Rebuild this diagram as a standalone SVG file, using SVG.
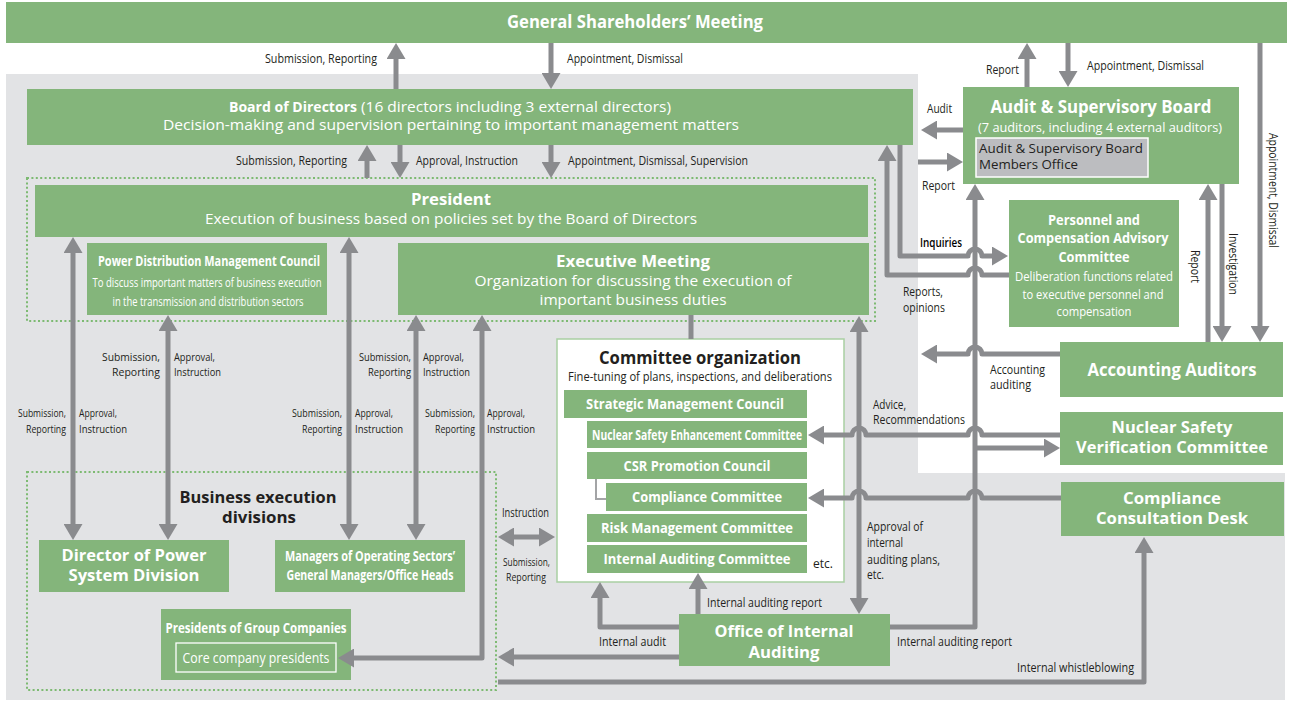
<svg xmlns="http://www.w3.org/2000/svg" width="1289" height="703" viewBox="0 0 1289 703">
  <defs>
    <marker id="ah" viewBox="0 0 16 19" refX="8" refY="9.5" markerWidth="16" markerHeight="19" markerUnits="userSpaceOnUse" orient="auto-start-reverse">
      <path d="M0,0 L16,9.5 L0,19 z" fill="#8a8b8e"/>
    </marker>
  </defs>
  <style>
    .box{fill:#84b57b}
    .frame{fill:none;stroke:#7dba72;stroke-width:2;stroke-dasharray:2 2.4}
    .c{fill:none;stroke:#8a8b8e;stroke-width:5;stroke-linejoin:round}
    .a{marker-end:url(#ah)}
    .d{marker-start:url(#ah);marker-end:url(#ah)}
    text{font-family:"Open Sans","Liberation Sans",sans-serif}
    .l{font-size:12px;fill:#231f20}
    .s{font-size:11.5px}
    .w{fill:#fff}
    .b{font-weight:700}
    .m{text-anchor:middle}
    .e{text-anchor:end}
  </style>

  <!-- background panels -->
  <rect width="1289" height="703" fill="#fff"/>
  <path d="M6,74 H918 V473 H1285 V700 H6 Z" fill="#e2e3e5"/>

  <!-- dotted group frames -->
  <rect class="frame" x="27" y="178" width="848" height="143"/>
  <rect class="frame" x="27" y="472" width="469" height="218"/>

  <!-- nodes -->
  <g id="gsm">
    <rect class="box" x="6" y="2" width="1281" height="41"/>
    <text class="w b m" x="635" y="28" font-size="17" textLength="256" lengthAdjust="spacingAndGlyphs">General Shareholders’ Meeting</text>
  </g>

  <g id="board">
    <rect class="box" x="27" y="89" width="886" height="56"/>
    <text class="w b" x="229" y="112" font-size="14.5" textLength="128" lengthAdjust="spacingAndGlyphs">Board of Directors</text>
    <text class="w" x="361" y="112" font-size="14.5" textLength="310" lengthAdjust="spacingAndGlyphs">(16 directors including 3 external directors)</text>
    <text class="w m" x="451" y="130" font-size="14.5" textLength="576" lengthAdjust="spacingAndGlyphs">Decision-making and supervision pertaining to important management matters</text>
  </g>

  <g id="president">
    <rect class="box" x="35" y="185" width="833" height="52"/>
    <text class="w b m" x="451" y="205" font-size="16" textLength="80" lengthAdjust="spacingAndGlyphs">President</text>
    <text class="w m" x="451" y="224" font-size="14.5" textLength="492" lengthAdjust="spacingAndGlyphs">Execution of business based on policies set by the Board of Directors</text>
  </g>

  <g id="pdmc">
    <rect class="box" x="87" y="243" width="240" height="72"/>
    <text class="w b m" x="209" y="266" font-size="13.5" textLength="222" lengthAdjust="spacingAndGlyphs">Power Distribution Management Council</text>
    <text class="w m" x="207" y="287" font-size="12.5" textLength="229" lengthAdjust="spacingAndGlyphs">To discuss important matters of business execution</text>
    <text class="w m" x="208" y="306" font-size="12.5" textLength="191" lengthAdjust="spacingAndGlyphs">in the transmission and distribution sectors</text>
  </g>

  <g id="executive-meeting">
    <rect class="box" x="398" y="243" width="471" height="72"/>
    <text class="w b m" x="633" y="267" font-size="16" textLength="154" lengthAdjust="spacingAndGlyphs">Executive Meeting</text>
    <text class="w m" x="633" y="286" font-size="14.5" textLength="317" lengthAdjust="spacingAndGlyphs">Organization for discussing the execution of</text>
    <text class="w m" x="633" y="305" font-size="14.5" textLength="187" lengthAdjust="spacingAndGlyphs">important business duties</text>
  </g>

  <g id="audit-board">
    <rect class="box" x="963" y="87" width="276" height="97"/>
    <text class="w b m" x="1101" y="113" font-size="17" textLength="221" lengthAdjust="spacingAndGlyphs">Audit &amp; Supervisory Board</text>
    <text class="w m" x="1100" y="132" font-size="13.5" textLength="244" lengthAdjust="spacingAndGlyphs">(7 auditors, including 4 external auditors)</text>
    <rect x="976" y="138" width="172" height="39" fill="#bcbdc0" stroke="#fff" stroke-width="1.5"/>
    <text x="979" y="153" font-size="13.5" fill="#231f20" textLength="164" lengthAdjust="spacingAndGlyphs">Audit &amp; Supervisory Board</text>
    <text x="979" y="169" font-size="13.5" fill="#231f20" textLength="99" lengthAdjust="spacingAndGlyphs">Members Office</text>
  </g>

  <g id="pcac">
    <rect class="box" x="1009" y="200" width="170" height="127"/>
    <text class="w b m" x="1094" y="225" font-size="14" textLength="92" lengthAdjust="spacingAndGlyphs">Personnel and</text>
    <text class="w b m" x="1093" y="243" font-size="14" textLength="151" lengthAdjust="spacingAndGlyphs">Compensation Advisory</text>
    <text class="w b m" x="1094" y="262" font-size="14" textLength="71" lengthAdjust="spacingAndGlyphs">Committee</text>
    <text class="w m" x="1094" y="281" font-size="13" textLength="158" lengthAdjust="spacingAndGlyphs">Deliberation functions related</text>
    <text class="w m" x="1093" y="299" font-size="13" textLength="141" lengthAdjust="spacingAndGlyphs">to executive personnel and</text>
    <text class="w m" x="1094" y="316" font-size="13" textLength="75" lengthAdjust="spacingAndGlyphs">compensation</text>
  </g>

  <g id="accounting-auditors">
    <rect class="box" x="1060" y="342" width="223" height="55"/>
    <text class="w b m" x="1172" y="376" font-size="17" textLength="169" lengthAdjust="spacingAndGlyphs">Accounting Auditors</text>
  </g>

  <g id="nuclear-verification">
    <rect class="box" x="1060" y="412" width="223" height="53"/>
    <text class="w b m" x="1172" y="433" font-size="15.5" textLength="121" lengthAdjust="spacingAndGlyphs">Nuclear Safety</text>
    <text class="w b m" x="1172" y="453" font-size="15.5" textLength="192" lengthAdjust="spacingAndGlyphs">Verification Committee</text>
  </g>

  <g id="consultation-desk">
    <rect class="box" x="1061" y="482" width="223" height="54"/>
    <text class="w b m" x="1172" y="504" font-size="16" textLength="98" lengthAdjust="spacingAndGlyphs">Compliance</text>
    <text class="w b m" x="1172" y="524" font-size="16" textLength="152" lengthAdjust="spacingAndGlyphs">Consultation Desk</text>
  </g>

  <g id="committee-organization">
    <rect x="557" y="339" width="287" height="243" fill="#fff" stroke="#a9cfa2" stroke-width="1.5"/>
    <text class="b m" x="700" y="364" font-size="17" fill="#231f20" textLength="202" lengthAdjust="spacingAndGlyphs">Committee organization</text>
    <text class="m" x="700" y="381" font-size="12.5" fill="#231f20" textLength="264" lengthAdjust="spacingAndGlyphs">Fine-tuning of plans, inspections, and deliberations</text>
    <text x="813" y="568" font-size="13" fill="#231f20" textLength="20" lengthAdjust="spacingAndGlyphs">etc.</text>
  </g>
  <g id="strategic-council">
    <rect class="box" x="564" y="390" width="243" height="28"/>
    <text class="w b m" x="685" y="409" font-size="14" textLength="198" lengthAdjust="spacingAndGlyphs">Strategic Management Council</text>
  </g>
  <g id="nuclear-enhancement">
    <rect class="box" x="587" y="421" width="220" height="27"/>
    <text class="w b m" x="697" y="440" font-size="14" textLength="210" lengthAdjust="spacingAndGlyphs">Nuclear Safety Enhancement Committee</text>
  </g>
  <g id="csr-council">
    <rect class="box" x="587" y="452" width="220" height="27"/>
    <text class="w b m" x="697" y="471" font-size="14" textLength="147" lengthAdjust="spacingAndGlyphs">CSR Promotion Council</text>
  </g>
  <g id="compliance-committee">
    <rect class="box" x="606" y="483" width="201" height="28"/>
    <text class="w b m" x="707" y="502" font-size="14" textLength="150" lengthAdjust="spacingAndGlyphs">Compliance Committee</text>
  </g>
  <g id="risk-committee">
    <rect class="box" x="587" y="514" width="220" height="28"/>
    <text class="w b m" x="697" y="533" font-size="14" textLength="192" lengthAdjust="spacingAndGlyphs">Risk Management Committee</text>
  </g>
  <g id="auditing-committee">
    <rect class="box" x="587" y="545" width="220" height="28"/>
    <text class="w b m" x="697" y="564" font-size="14" textLength="187" lengthAdjust="spacingAndGlyphs">Internal Auditing Committee</text>
  </g>

  <g id="internal-auditing-office">
    <rect class="box" x="679" y="614" width="211" height="52"/>
    <text class="w b m" x="784" y="637" font-size="16" textLength="139" lengthAdjust="spacingAndGlyphs">Office of Internal</text>
    <text class="w b m" x="784" y="658" font-size="16" textLength="71" lengthAdjust="spacingAndGlyphs">Auditing</text>
  </g>

  <g id="business-divisions">
    <text class="b m" x="258" y="503" font-size="16" fill="#231f20" textLength="157" lengthAdjust="spacingAndGlyphs">Business execution</text>
    <text class="b m" x="259" y="523" font-size="16" fill="#231f20" textLength="74" lengthAdjust="spacingAndGlyphs">divisions</text>
  </g>

  <g id="power-system-director">
    <rect class="box" x="39" y="540" width="190" height="52"/>
    <text class="w b m" x="134" y="561" font-size="16" textLength="145" lengthAdjust="spacingAndGlyphs">Director of Power</text>
    <text class="w b m" x="134" y="581" font-size="16" textLength="131" lengthAdjust="spacingAndGlyphs">System Division</text>
  </g>

  <g id="sector-managers">
    <rect class="box" x="275" y="540" width="190" height="52"/>
    <text class="w b m" x="370" y="561" font-size="14" textLength="170" lengthAdjust="spacingAndGlyphs">Managers of Operating Sectors’</text>
    <text class="w b m" x="370" y="580" font-size="14" textLength="167" lengthAdjust="spacingAndGlyphs">General Managers/Office Heads</text>
  </g>

  <g id="group-presidents">
    <rect class="box" x="161" y="609" width="190" height="71"/>
    <text class="w b m" x="256" y="633" font-size="14" textLength="181" lengthAdjust="spacingAndGlyphs">Presidents of Group Companies</text>
    <rect x="176" y="643" width="160" height="29" fill="none" stroke="#fff" stroke-width="1.3"/>
    <text class="w m" x="256" y="663" font-size="14" textLength="147" lengthAdjust="spacingAndGlyphs">Core company presidents</text>
  </g>

  <!-- connectors -->
  <g id="connectors">
    <path class="c a" d="M396,89 V51"/>
    <path class="c a" d="M551,43 V81"/>
    <path class="c a" d="M367,178 V153"/>
    <path class="c a" d="M400,145 V170"/>
    <path class="c a" d="M551,145 V170"/>
    <path class="c d" d="M73,245 V532"/>
    <path class="c d" d="M168,323 V532"/>
    <path class="c d" d="M349,245 V532"/>
    <path class="c d" d="M416,323 V532"/>
    <path class="c d" d="M482,323 V658 H346"/>
    <path class="c" d="M691,315 V339"/>
    <path class="c d" d="M506,537 H547"/>
    <path class="c d" d="M859,324 V606"/>
    <path class="c a" d="M679,657 H506"/>
    <path class="c a" d="M679,627 H600 V590"/>
    <path class="c a" d="M698,614 V581"/>
    <path class="c a" d="M890,627 H975 V192"/>
    <path class="c a" d="M498,682 H1144 V545"/>
    <path class="c a" d="M963,130 H929"/>
    <path class="c a" d="M918,162 H955"/>
    <path class="c a" d="M1027,87 V51"/>
    <path class="c a" d="M1068,43 V79"/>
    <path class="c a" d="M1260,43 V334"/>
    <path class="c a" d="M1222,184 V334"/>
    <path class="c a" d="M1208,342 V192"/>
    <path class="c a" d="M900,145 V256 H968 A7,7 0 0 1 982,256 H1000"/>
    <path class="c a" d="M1009,275 H982 A7,7 0 0 0 968,275 H887 V153"/>
    <path class="c a" d="M1060,354 H982 A7,7 0 0 0 968,354 H929"/>
    <path class="c a" d="M1060,435 H982 A7,7 0 0 0 968,435 H866 A7,7 0 0 0 852,435 H816"/>
    <path class="c a" d="M975,448 H1052"/>
    <path class="c a" d="M1061,498 H982 A7,7 0 0 0 968,498 H866 A7,7 0 0 0 852,498 H816"/>
    <path d="M596,479 V499 H606" fill="none" stroke="#a3a4a6" stroke-width="2"/>
  </g>

  <!-- connector labels -->
  <g id="labels" class="l">
    <text x="265" y="63" textLength="112" lengthAdjust="spacingAndGlyphs">Submission, Reporting</text>
    <text x="567" y="63" textLength="116" lengthAdjust="spacingAndGlyphs">Appointment, Dismissal</text>
    <text x="236" y="165" textLength="111" lengthAdjust="spacingAndGlyphs">Submission, Reporting</text>
    <text x="416" y="165" textLength="102" lengthAdjust="spacingAndGlyphs">Approval, Instruction</text>
    <text x="568" y="165" textLength="180" lengthAdjust="spacingAndGlyphs">Appointment, Dismissal, Supervision</text>
    <text x="986" y="74" textLength="33" lengthAdjust="spacingAndGlyphs">Report</text>
    <text x="1087" y="70" textLength="117" lengthAdjust="spacingAndGlyphs">Appointment, Dismissal</text>
    <text x="927" y="113" textLength="25" lengthAdjust="spacingAndGlyphs">Audit</text>
    <text x="922" y="190" textLength="33" lengthAdjust="spacingAndGlyphs">Report</text>
    <text x="920" y="247" textLength="42" lengthAdjust="spacingAndGlyphs" font-weight="600" fill="#000">Inquiries</text>
    <text x="903" y="296" textLength="40" lengthAdjust="spacingAndGlyphs">Reports,</text>
    <text x="903" y="312" textLength="42" lengthAdjust="spacingAndGlyphs">opinions</text>
    <text x="990" y="374" textLength="55" lengthAdjust="spacingAndGlyphs">Accounting</text>
    <text x="990" y="389" textLength="41" lengthAdjust="spacingAndGlyphs">auditing</text>
    <text x="873" y="409" textLength="33" lengthAdjust="spacingAndGlyphs">Advice,</text>
    <text x="873" y="424" textLength="92" lengthAdjust="spacingAndGlyphs">Recommendations</text>
    <text x="867" y="531" textLength="56" lengthAdjust="spacingAndGlyphs">Approval of</text>
    <text x="867" y="547" textLength="36" lengthAdjust="spacingAndGlyphs">internal</text>
    <text x="867" y="564" textLength="73" lengthAdjust="spacingAndGlyphs">auditing plans,</text>
    <text x="867" y="579" textLength="17" lengthAdjust="spacingAndGlyphs">etc.</text>
    <text x="707" y="607" textLength="115" lengthAdjust="spacingAndGlyphs">Internal auditing report</text>
    <text x="599" y="646" textLength="67" lengthAdjust="spacingAndGlyphs">Internal audit</text>
    <text x="897" y="646" textLength="115" lengthAdjust="spacingAndGlyphs">Internal auditing report</text>
    <text x="1017" y="672" textLength="117" lengthAdjust="spacingAndGlyphs">Internal whistleblowing</text>
    <text x="502" y="517" textLength="47" lengthAdjust="spacingAndGlyphs">Instruction</text>
    <text class="s" x="503" y="566" textLength="47" lengthAdjust="spacingAndGlyphs">Submission,</text>
    <text class="s" x="506" y="581" textLength="40" lengthAdjust="spacingAndGlyphs">Reporting</text>

    <text class="e s" x="160" y="361" textLength="58" lengthAdjust="spacingAndGlyphs">Submission,</text>
    <text class="e s" x="160" y="376" textLength="48" lengthAdjust="spacingAndGlyphs">Reporting</text>
    <text class="s" x="174" y="361" textLength="41" lengthAdjust="spacingAndGlyphs">Approval,</text>
    <text class="s" x="174" y="376" textLength="47" lengthAdjust="spacingAndGlyphs">Instruction</text>
    <text class="e s" x="411" y="361" textLength="52" lengthAdjust="spacingAndGlyphs">Submission,</text>
    <text class="e s" x="411" y="376" textLength="43" lengthAdjust="spacingAndGlyphs">Reporting</text>
    <text class="s" x="423" y="361" textLength="41" lengthAdjust="spacingAndGlyphs">Approval,</text>
    <text class="s" x="423" y="376" textLength="47" lengthAdjust="spacingAndGlyphs">Instruction</text>

    <text class="e s" x="66" y="417" textLength="48" lengthAdjust="spacingAndGlyphs">Submission,</text>
    <text class="e s" x="66" y="433" textLength="40" lengthAdjust="spacingAndGlyphs">Reporting</text>
    <text class="s" x="79" y="417" textLength="38" lengthAdjust="spacingAndGlyphs">Approval,</text>
    <text class="s" x="79" y="433" textLength="48" lengthAdjust="spacingAndGlyphs">Instruction</text>
    <text class="e s" x="342" y="417" textLength="50" lengthAdjust="spacingAndGlyphs">Submission,</text>
    <text class="e s" x="342" y="433" textLength="40" lengthAdjust="spacingAndGlyphs">Reporting</text>
    <text class="s" x="355" y="417" textLength="38" lengthAdjust="spacingAndGlyphs">Approval,</text>
    <text class="s" x="355" y="433" textLength="48" lengthAdjust="spacingAndGlyphs">Instruction</text>
    <text class="e s" x="475" y="417" textLength="50" lengthAdjust="spacingAndGlyphs">Submission,</text>
    <text class="e s" x="475" y="433" textLength="40" lengthAdjust="spacingAndGlyphs">Reporting</text>
    <text class="s" x="487" y="417" textLength="38" lengthAdjust="spacingAndGlyphs">Approval,</text>
    <text class="s" x="487" y="433" textLength="48" lengthAdjust="spacingAndGlyphs">Instruction</text>

    <text transform="translate(1269,133) rotate(90)" textLength="115" lengthAdjust="spacingAndGlyphs">Appointment, Dismissal</text>
    <text transform="translate(1229,233) rotate(90)" textLength="62" lengthAdjust="spacingAndGlyphs">Investigation</text>
    <text transform="translate(1191,250) rotate(90)" textLength="33" lengthAdjust="spacingAndGlyphs">Report</text>
  </g>
</svg>
